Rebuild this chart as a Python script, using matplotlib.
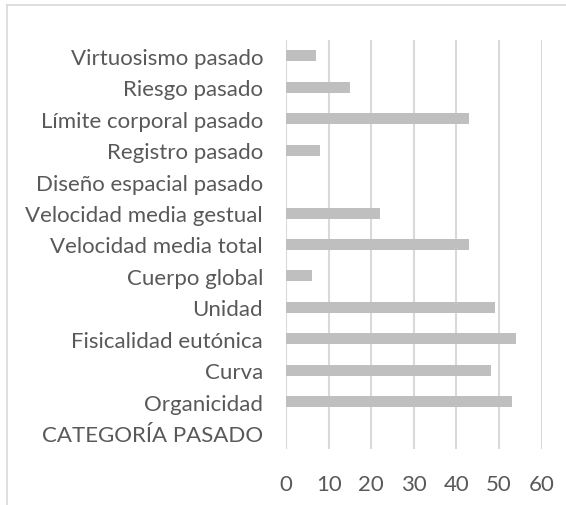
import matplotlib
matplotlib.use("Agg")
import matplotlib.pyplot as plt
from matplotlib.lines import Line2D

# categories listed bottom to top, as in the chart
categories = ["CATEGORÍA PASADO", "Organicidad", "Curva", "Fisicalidad eutónica",
              "Unidad", "Cuerpo global", "Velocidad media total",
              "Velocidad media gestual", "Diseño espacial pasado",
              "Registro pasado", "Límite corporal pasado", "Riesgo pasado",
              "Virtuosismo pasado"]
values = [0, 53, 48, 54, 49, 6, 43, 22, 0, 8, 43, 15, 7]
xticks = [0, 10, 20, 30, 40, 50, 60]

text_color = "#595959"
grid_color = "#d9d9d9"
bar_color = "#bfbfbf"

plt.rcParams['font.family'] = ['Lato', 'DejaVu Sans']

fig = plt.figure(figsize=(5.66, 5.06), dpi=100)
ax = fig.add_axes([0.5053, 0.1107, 0.957 - 0.5053, 0.919 - 0.1107])

ind = range(len(categories))
ax.barh(ind, values, height=0.35, color=bar_color, zorder=2)

ax.set_xlim(0, 60)
ax.set_ylim(-0.5, len(categories) - 0.5)
ax.set_xticks(xticks)
ax.set_yticks(list(ind))
ax.set_yticklabels(categories)
ax.xaxis.grid(True, color=grid_color, linewidth=1.5, zorder=0)
ax.tick_params(axis='both', length=0, colors=text_color, labelsize=16)
ax.tick_params(axis='y', pad=16.5)
ax.tick_params(axis='x', pad=18)
for s in ax.spines.values():
    s.set_visible(False)

# outer chart border (only the top and left edges are inside the crop)
fig.add_artist(Line2D([7 / 566, 7 / 566], [0, 1 - 6 / 506],
                      transform=fig.transFigure, color=grid_color, linewidth=1.2))
fig.add_artist(Line2D([7 / 566, 1], [1 - 6 / 506, 1 - 6 / 506],
                      transform=fig.transFigure, color=grid_color, linewidth=1.2))

fig.savefig("out.png", dpi=100)
